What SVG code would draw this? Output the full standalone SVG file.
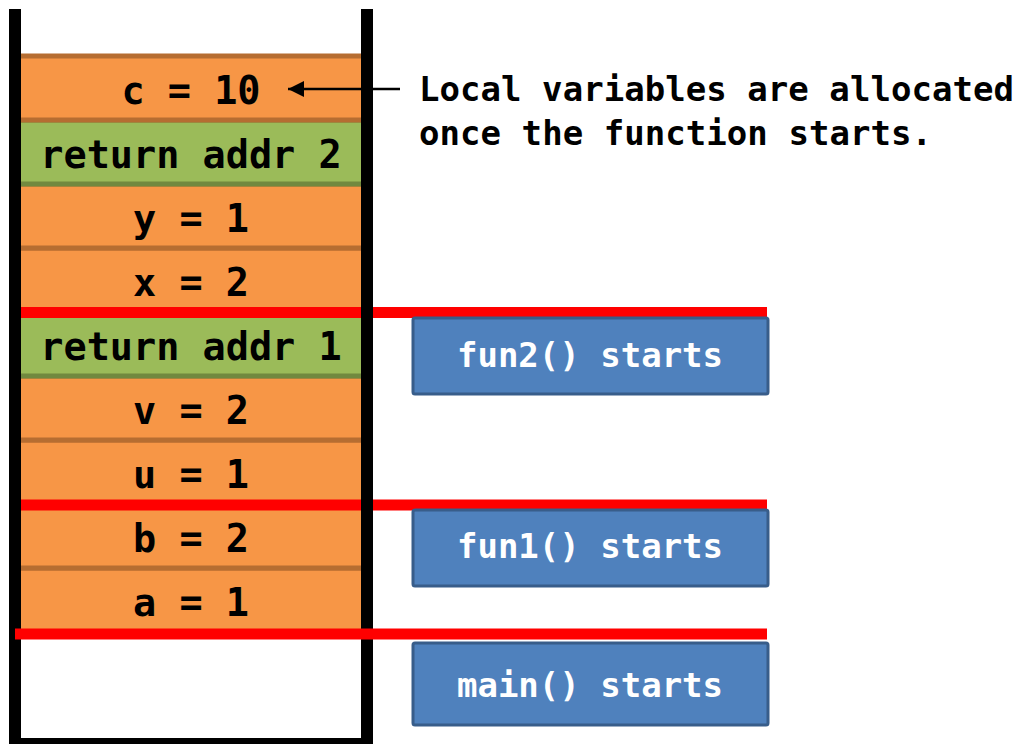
<svg xmlns="http://www.w3.org/2000/svg" width="1021" height="744" viewBox="0 0 1021 744">
<defs>
<style>
.or{fill:#F79646;stroke:#B66D31;stroke-width:5}
.gr{fill:#9BBB59;stroke:#71893F;stroke-width:5}
.st{font-family:"DejaVu Sans Mono","Liberation Mono",monospace;font-weight:bold;font-size:38.5px;fill:#000;text-anchor:middle}
.bx{fill:#4F81BD;stroke:#385D8A;stroke-width:3}
.bt{font-family:"DejaVu Sans Mono","Liberation Mono",monospace;font-weight:bold;font-size:34px;fill:#fff;text-anchor:middle}
.an{font-family:"DejaVu Sans Mono","Liberation Mono",monospace;font-weight:bold;font-size:34px;fill:#000}
.red{stroke:#FF0000;stroke-width:11;fill:none}
</style>
<marker id="ah" markerWidth="16" markerHeight="16" refX="16" refY="8" orient="auto" markerUnits="userSpaceOnUse">
<path d="M0,0 L16,8 L0,16 Z" fill="#000"/>
</marker>
</defs>
<rect width="1021" height="744" fill="#fff"/>
<g id="stack">
<g id="row-a"><rect class="or" x="15" y="568" width="352" height="64"/><text class="st" x="191" y="616">a = 1</text></g>
<g id="row-b"><rect class="or" x="15" y="504" width="352" height="64"/><text class="st" x="191" y="552">b = 2</text></g>
<g id="row-u"><rect class="or" x="15" y="440" width="352" height="64"/><text class="st" x="191" y="488">u = 1</text></g>
<g id="row-v"><rect class="or" x="15" y="376" width="352" height="64"/><text class="st" x="191" y="424">v = 2</text></g>
<g id="row-ret1"><rect class="gr" x="15" y="312" width="352" height="64"/><text class="st" x="191" y="360">return addr 1</text></g>
<g id="row-x"><rect class="or" x="15" y="248" width="352" height="64"/><text class="st" x="191" y="296">x = 2</text></g>
<g id="row-y"><rect class="or" x="15" y="184" width="352" height="64"/><text class="st" x="191" y="232">y = 1</text></g>
<g id="row-ret2"><rect class="gr" x="15" y="120" width="352" height="64"/><text class="st" x="191" y="168">return addr 2</text></g>
<g id="row-c"><rect class="or" x="15" y="56" width="352" height="64"/><text class="st" x="191" y="104">c = 10</text></g>
</g>
<g id="connectors">
<line class="red" x1="21" y1="312.5" x2="767" y2="312.5"/>
<line class="red" x1="21" y1="505" x2="767" y2="505"/>
<line x1="400" y1="89" x2="288" y2="89" stroke="#000" stroke-width="2.5" marker-end="url(#ah)"/>
</g>
<g id="walls">
<path d="M15,9 V744 H367 V9" fill="none" stroke="#000" stroke-width="12" stroke-linejoin="miter"/>
</g>
<g id="connectors-front">
<line class="red" x1="15" y1="634" x2="767" y2="634"/>
</g>
<g id="fun2-box"><rect class="bx" x="413" y="318" width="355" height="76" rx="2"/><text class="bt" x="590" y="367">fun2() starts</text></g>
<g id="fun1-box"><rect class="bx" x="413" y="510" width="355" height="76" rx="2"/><text class="bt" x="590" y="558">fun1() starts</text></g>
<g id="main-box"><rect class="bx" x="413" y="643" width="355" height="82" rx="2"/><text class="bt" x="590" y="697">main() starts</text></g>
<g id="annotation">
<text class="an" x="419" y="101" textLength="595" lengthAdjust="spacing">Local variables are allocated</text>
<text class="an" x="419" y="145" textLength="513" lengthAdjust="spacing">once the function starts.</text>
</g>
</svg>
